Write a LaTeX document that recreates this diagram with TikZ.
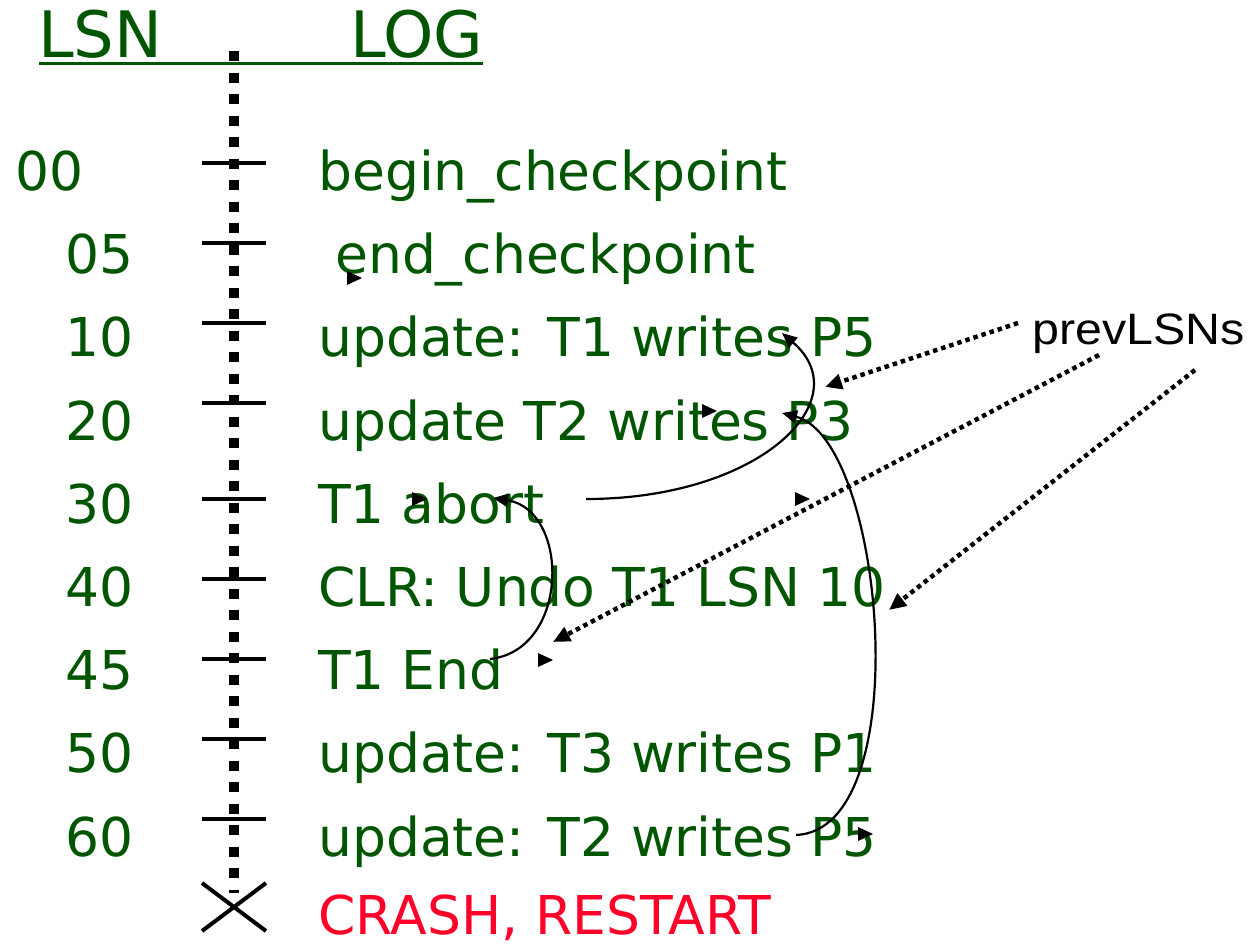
\documentclass[tikz,border=0pt]{standalone}
\usepackage{fontspec}
\usepackage{graphicx}
\setmainfont{DejaVu Sans}
\newfontfamily\arialfont{Liberation Sans}
\usetikzlibrary{arrows.meta}
\definecolor{loggreen}{RGB}{0,85,0}
\definecolor{crashred}{RGB}{255,0,40}
\tikzset{
  txt/.style={anchor=base west, inner sep=0pt, text=loggreen, font=\fontsize{53.5bp}{60bp}\selectfont},
  hdr/.style={anchor=base west, inner sep=0pt, text=loggreen, font=\fontsize{64bp}{70bp}\selectfont},
  tick/.style={line width=4bp},
  prevarrow/.style={line width=4.5bp, dash pattern=on 4.5bp off 4bp, -{Triangle[length=17bp,width=15bp]}},
  linkarrow/.style={line width=2.2bp, -{Triangle[length=15bp,width=13bp]}},
  orphan/.style={fill=black}
}
\begin{document}
\begin{tikzpicture}[x=1bp,y=-1bp]
\useasboundingbox (0,0) rectangle (1260,944);
% header
\node[hdr] (hlsn) at (38,57) {LSN};
\node[hdr] (hlog) at (350,57) {LOG};
\draw[loggreen, line width=3bp] (39,63) -- (483,63);
% timeline
\coordinate (ttop) at (234,51);
\coordinate (tbot) at (234,893);
\draw[line width=9.5bp, dash pattern=on 10bp off 11.5bp] (ttop) -- (tbot);
% ticks
\foreach \y in {162.7,242.7,322.7,402.7,499,579,659,738.7,818.7}
  \draw[tick] (202,\y) -- (266,\y);
% crash cross
\coordinate (xa) at (202,883);
\coordinate (xb) at (266,931);
\coordinate (xc) at (202,931);
\coordinate (xd) at (266,883);
\draw[line width=4bp] (xa) -- (xb);
\draw[line width=4bp] (xc) -- (xd);
% LSN numbers
\node[txt] (n00) at (15,190) {00};
\node[txt] (n05) at (65,273) {05};
\node[txt] (n10) at (65,356) {10};
\node[txt] (n20) at (65,440) {20};
\node[txt] (n30) at (65,523) {30};
\node[txt] (n40) at (65,606) {40};
\node[txt] (n45) at (65,689) {45};
\node[txt] (n50) at (65,772) {50};
\node[txt] (n60) at (65,856) {60};
% log records
\node[txt] (r00) at (318,190) {begin\_checkpoint};
\node[txt] (r05) at (335,273) {end\_checkpoint};
\node[txt] (r10) at (318,356) {update: T1 writes P5};
\node[txt] (r20) at (318,440) {update T2 writes P3};
\node[txt] (r30) at (318,523) {T1 abort};
\node[txt] (r40) at (318,606) {CLR: Undo T1 LSN 10};
\node[txt] (r45) at (318,689) {T1 End};
\node[txt] (r50) at (318,772) {update: T3 writes P1};
\node[txt] (r60) at (318,856) {update: T2 writes P5};
\node[txt, text=crashred, text depth=0pt] (crash) at (318,934) {CRASH, RESTART};
% prevLSNs label
\node[anchor=base west, inner sep=0pt, font=\arialfont\fontsize{44bp}{48bp}\selectfont] (prev) at (1032,344) {\scalebox{1.1}[1]{prevLSNs}};
% prevLSN links
\coordinate (s30) at (586,499);
\coordinate (e30) at (782,333);
\draw[linkarrow] (s30) .. controls (760,499) and (860,400) .. (e30);
\coordinate (s45) at (490,659);
\coordinate (e45) at (493,498);
\draw[linkarrow] (s45) .. controls (570,650) and (570,510) .. (e45);
\coordinate (s60) at (796,835);
\coordinate (e60) at (782,413);
\draw[linkarrow] (s60) .. controls (918,830) and (885,440) .. (e60);
% dotted pointers from label
\coordinate (pa) at (1018,323);
\coordinate (pat) at (825,387);
\coordinate (pb) at (1099,355);
\coordinate (pbt) at (553,642);
\coordinate (pc) at (1195,370);
\coordinate (pct) at (889,610);
\draw[prevarrow] (pa) -- (pat);
\draw[prevarrow] (pb) -- (pbt);
\draw[prevarrow] (pc) -- (pct);
% stray arrowheads
\foreach \tx/\ty in {362/278, 717/411, 810/499, 553/660, 427/499, 873/834}
  \fill[orphan] (\tx,\ty) -- ++(-15,-7) -- ++(0,14) -- cycle;
\end{tikzpicture}
\end{document}
